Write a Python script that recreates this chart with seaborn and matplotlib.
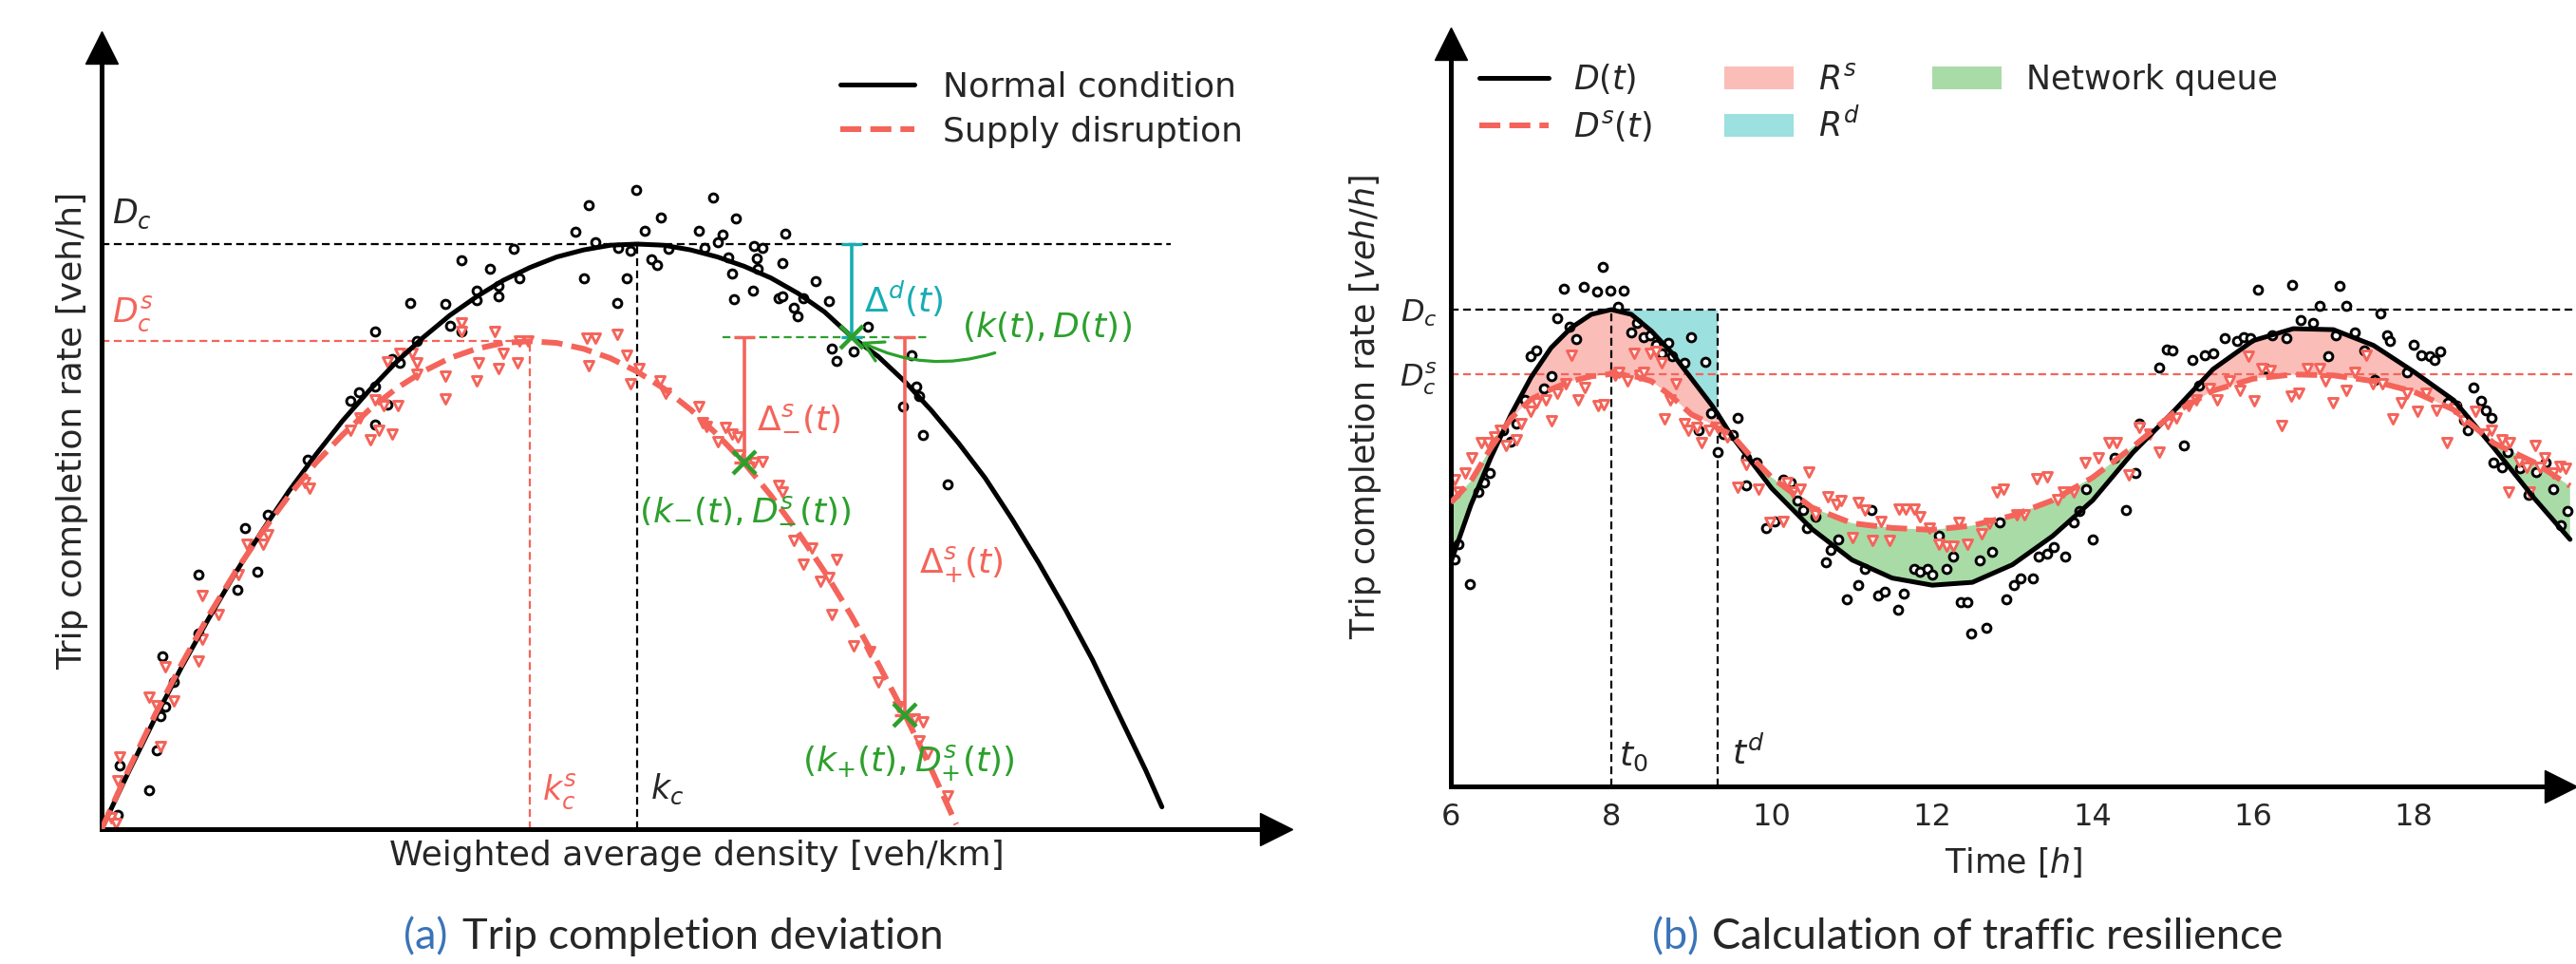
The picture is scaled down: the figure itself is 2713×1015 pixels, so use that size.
"""
Trip completion deviation (a) and traffic resilience (b) schematic.
"""

import numpy as np
import matplotlib.pyplot as plt
import seaborn as sns

sns.set_style('white')
plt.rcParams['font.family'] = ['DejaVu Sans']
plt.rcParams['mathtext.fontset'] = 'dejavusans'

RED = '#f4645a'
GREEN = '#2ca02c'
TEAL = '#17adb3'
PINK_FILL = '#fbbdb8'
TEAL_FILL = '#9ce0df'
GREEN_FILL = '#a9dba6'
BLUE = '#3a74b8'

# ============================================================================
# DATA - panel (a): MFD under normal condition and supply disruption
# ============================================================================

k_normal = [0, 2.5, 5, 7.5, 10, 12.5, 15, 17.5, 20, 22.5, 25, 27.5, 30, 32.5, 35, 37.5,
            40, 42.5, 45, 47.5, 50, 52.5, 55, 57.5, 60, 62.5, 65, 67.5, 70, 72.5, 75,
            77.5, 80, 82.5, 85, 87.5, 90, 92.5, 95, 97.5, 99]
D_normal = [0, 97, 190, 278, 360, 438, 510, 578, 640, 698, 750, 798, 840, 878, 910, 938,
            960, 978, 990, 998, 1000, 998, 990, 978, 962, 942, 916, 884, 842, 808, 765,
            715, 660, 600, 530, 455, 375, 290, 195, 100, 38]

k_supply = [0, 2.5, 5, 7.5, 10, 12.5, 15, 17.5, 20, 22.5, 25, 27.5, 30, 32.5, 35, 37.5,
            40, 42.5, 45, 47.5, 50, 52.5, 55, 57.5, 60, 62.5, 65, 67.5, 70, 72.5, 75,
            77.5, 79.8]
D_supply = [0, 101, 196, 283, 365, 440, 508, 570, 626, 674, 717, 753, 782, 805, 821, 831,
            834, 831, 821, 805, 782, 753, 717, 674, 626, 570, 508, 440, 365, 283, 196,
            101, 8]

k_obs = [1.5, 1.7, 4.4, 5.5, 5.9, 5.1, 5.7, 6.7, 9.0, 9.0, 12.7, 13.4, 14.5, 15.5, 19.2,
         23.2, 24.0, 25.5, 25.5, 26.7, 25.5, 27.1, 27.8, 28.8, 29.4, 32.1, 32.5, 33.6, 33.6,
         35.0, 35.0, 36.3, 37.1, 37.1, 38.5, 39.0, 44.2, 45.0, 45.5, 46.1, 48.1, 48.2, 49.0,
         49.4, 49.9, 50.7, 51.3, 51.9, 52.2, 52.9, 55.8, 56.3, 57.1, 57.5, 58.0, 58.5, 58.9,
         59.0, 59.2, 60.8, 60.9, 61.2, 61.3, 61.7, 63.2, 63.6, 63.8, 63.6, 64.6, 65.0, 65.5,
         66.7, 67.9, 68.2, 68.6, 70.2, 71.5, 74.8, 75.6, 76.1, 76.3, 76.7, 79.0]
D_obs = [25, 109, 67, 193, 209, 135, 295, 251, 435, 335, 409, 514, 440, 537, 631,
         732, 746, 757, 692, 726, 850, 803, 797, 900, 834, 897, 860, 973, 850,
         920, 904, 958, 929, 910, 992, 942, 1021, 941, 1067, 1004, 900, 994, 942,
         989, 1092, 1022, 974, 965, 1046, 992, 1022, 994, 1079, 1004, 1016, 978, 949,
         906, 1044, 920, 997, 976, 958, 994, 908, 911, 1018, 968, 892, 876, 908,
         936, 902, 821, 800, 816, 858, 722, 810, 757, 740, 674, 589]

k_obs_s = [0.9, 1.3, 1.7, 1.5, 4.4, 5.1, 5.9, 5.5, 6.7, 9.0, 9.4, 9.4, 10.9, 12.8, 13.6,
           15.1, 15.5, 19.0, 19.4, 23.2, 24.1, 25.1, 25.5, 25.9, 26.3, 27.1, 27.7, 26.7,
           27.8, 29.0, 29.4, 29.4, 32.1, 32.1, 33.6, 33.6, 35.0, 35.2, 36.7, 37.1, 37.5,
           38.8, 39.0, 39.8, 45.3, 46.1, 45.5, 48.1, 49.0, 49.4, 50.2, 52.1, 52.7, 55.8,
           56.1, 56.5, 57.5, 58.2, 58.9, 59.4, 59.6, 60.9, 61.7, 63.2, 63.6, 64.6, 65.5,
           66.3, 67.1, 67.9, 68.6, 68.2, 70.2, 71.7, 72.5, 74.4, 75.9, 76.7, 76.3, 77.1, 79.0]
D_obs_s = [20, 9, 123, 83, 225, 211, 277, 141, 219, 288, 400, 325, 367, 435, 487,
           487, 503, 592, 582, 682, 703, 666, 734, 682, 724, 676, 724, 799,
           813, 813, 797, 778, 774, 736, 866, 850, 766, 797, 850, 787, 813,
           797, 834, 834, 839, 839, 792, 845, 810, 761, 787, 766, 745, 722,
           694, 689, 663, 687, 676, 671, 640, 627, 629, 587, 577, 493, 453,
           480, 424, 430, 461, 367, 314, 304, 251, 209, 188, 183, 151, 130, 57]

D_c, D_cs = 1000, 834          # capacities
k_c, k_cs = 50, 40             # critical densities
k_t, D_t = 70, 841             # current state (k(t), D(t))
k_minus, D_minus = 60, 626     # (k_-(t), D^s_-(t))
k_plus, D_plus = 75, 195       # (k_+(t), D^s_+(t))

# ============================================================================
# DATA - panel (b): daily trip completion profiles
# ============================================================================

t_b = [6.0, 6.25, 6.5, 6.75, 7.0, 7.25, 7.5, 7.75, 8.0, 8.25, 8.5, 8.75, 9.0, 9.25, 9.32,
       9.5, 9.75, 10.0, 10.5, 11.0, 11.5, 12.0, 12.5, 13.0, 13.5, 14.0, 14.5, 15.0, 15.5,
       16.0, 16.5, 17.0, 17.5, 18.0, 18.5, 19.0, 19.5, 19.95]
D_b = [470, 590, 690, 780, 858, 920, 962, 990, 1000, 990, 955, 910, 855, 800, 783,
       735, 680, 625, 540, 475, 437, 422, 428, 465, 525, 600, 700, 785, 875,
       935, 960, 958, 925, 870, 810, 710, 605, 518]
Ds_b = [595, 640, 710, 772, 812, 833, 850, 860, 865, 862, 850, 818, 780, 760, 752,
        738, 690, 648, 585, 552, 542, 538, 547, 568, 600, 648, 712, 782, 830,
        855, 864, 862, 850, 828, 790, 720, 680, 630]

t_obs = [6.05, 6.10, 6.24, 6.34, 6.41, 6.48, 6.65, 6.75, 6.82, 6.92, 6.99, 7.07, 7.16, 7.26,
         7.33, 7.48, 7.56, 7.41, 7.66, 7.82, 7.99, 8.15, 7.89, 8.08, 8.25, 8.32, 8.40, 8.48,
         8.56, 8.63, 8.71, 8.76, 8.91, 8.99, 9.09, 9.17, 9.24, 9.32, 9.40, 9.51, 9.58, 9.68,
         9.81, 9.68, 9.93, 10.04, 10.14, 10.24, 10.32, 10.39, 10.44, 10.55, 10.67, 10.73,
         10.83, 10.93, 11.08, 11.16, 11.24, 11.32, 11.41, 11.57, 11.65, 11.77, 11.85, 11.94,
         12.0, 12.08, 12.18, 12.26, 12.36, 12.44, 12.49, 12.67, 12.59, 12.74, 12.84, 12.92,
         13.02, 13.10, 13.25, 13.32, 13.43, 13.51, 13.66, 13.76, 13.83, 13.92, 14.0, 14.27,
         14.41, 14.53, 14.58, 14.83, 14.92, 14.99, 15.14, 15.24, 15.33, 15.40, 15.50, 15.65,
         15.80, 15.88, 15.96, 16.06, 16.16, 16.24, 16.42, 16.49, 16.59, 16.75, 16.83, 16.93,
         17.03, 17.08, 17.16, 17.27, 17.39, 17.51, 17.59, 17.67, 17.71, 17.92, 18.0, 18.10,
         18.20, 18.26, 18.33, 18.43, 18.53, 18.63, 18.68, 18.74, 18.84, 18.90, 18.97, 19.0,
         19.10, 19.17, 19.33, 19.38, 19.43, 19.53, 19.65, 19.74, 19.84, 19.92]
D_obs_b = [476, 508, 425, 618, 637, 657, 747, 724, 760, 811, 902, 914, 835, 860,
           982, 964, 938, 1043, 1047, 1037, 1040, 1040, 1089, 1005, 953, 973, 943, 947,
           927, 908, 931, 902, 889, 943, 747, 891, 783, 702, 740, 737, 773, 689,
           680, 631, 541, 556, 644, 637, 599, 579, 541, 566, 470, 496,
           518, 392, 422, 457, 579, 401, 409, 370, 405, 457, 450, 457,
           444, 525, 457, 483, 386, 386, 321, 332, 474, 492, 553, 392,
           422, 437, 437, 483, 489, 502, 483, 553, 577, 624, 517, 689,
           579, 657, 760, 878, 917, 915, 715, 895, 840, 904, 908, 940,
           934, 943, 940, 1041, 876, 947, 940, 1052, 979, 973, 1007, 902,
           947, 1050, 1007, 953, 914, 853, 992, 947, 934, 869, 927, 904,
           902, 895, 912, 805, 798, 769, 747, 837, 809, 788, 773, 680,
           670, 702, 667, 680, 612, 659, 680, 624, 547, 577]

t_obs_s = [6.05, 6.10, 6.18, 6.26, 6.38, 6.46, 6.54, 6.62, 6.69, 6.82, 6.87, 6.99, 7.07, 7.18,
           7.26, 7.33, 7.43, 7.50, 7.59, 7.67, 7.84, 7.91, 8.05, 8.10, 8.20, 8.28, 8.35, 8.40,
           8.48, 8.56, 8.63, 8.73, 8.66, 8.81, 8.91, 8.96, 9.07, 9.12, 9.22, 9.32, 9.44, 9.58,
           9.68, 9.83, 9.98, 10.14, 10.19, 10.26, 10.36, 10.46, 10.55, 10.70, 10.80, 10.87,
           11.01, 11.08, 11.16, 11.26, 11.36, 11.47, 11.59, 11.67, 11.77, 11.85, 11.96, 12.08,
           12.18, 12.26, 12.33, 12.44, 12.61, 12.71, 12.81, 12.89, 13.05, 13.15, 13.30, 13.43,
           13.56, 13.63, 13.76, 13.90, 14.07, 14.20, 14.30, 14.45, 14.58, 14.71, 14.83, 14.94,
           15.04, 15.19, 15.29, 15.45, 15.55, 15.70, 15.84, 15.94, 16.01, 16.11, 16.21, 16.35,
           16.47, 16.57, 16.67, 16.83, 16.90, 17.0, 17.16, 17.27, 17.41, 17.49, 17.61, 17.74,
           17.85, 17.92, 18.05, 18.15, 18.29, 18.41, 18.51, 18.63, 18.77, 18.90, 18.97, 19.10,
           19.20, 19.31, 19.41, 19.51, 19.58, 19.63, 19.74, 19.82, 19.89, 19.18, 19.45]
Ds_obs_b = [644, 618, 657, 689, 721, 721, 734, 747, 715, 728, 760, 786, 805, 811,
            766, 824, 844, 904, 811, 837, 798, 801, 863, 869, 850, 908, 863, 869,
            908, 912, 889, 811, 770, 844, 760, 747, 753, 721, 747, 753, 734, 628,
            676, 624, 554, 556, 637, 618, 624, 659, 569, 608, 592, 599,
            521, 595, 579, 515, 556, 515, 582, 582, 582, 566, 541, 508,
            504, 504, 553, 508, 530, 551, 618, 624, 569, 569, 646, 650,
            602, 618, 618, 680, 689, 721, 721, 654, 753, 740, 702, 760,
            773, 798, 811, 835, 811, 850, 831, 902, 809, 876, 873, 757,
            818, 824, 876, 876, 850, 805, 831, 869, 904, 844, 844, 770,
            805, 824, 786, 824, 788, 721, 792, 766, 786, 740, 747, 728,
            721, 682, 670, 715, 670, 689, 657, 672, 667, 618, 618]

D_c_b, D_cs_b = 1000, 865
t0, td = 8, 9.32

# ============================================================================
# FIGURE
# ============================================================================

fig = plt.figure(figsize=(27.13, 10.15), dpi=100)
ax1 = fig.add_axes([0.03944, 0.13990, 0.46185, 0.82759])
ax2 = fig.add_axes([0.56321, 0.18424, 0.43679, 0.78719])

THIN = (0, (3.7, 2.1))
FS = 26
MK_LW = 2.1


def arrow_axes(ax, x0, x1, y0, y1, xa, ya):
    ax.set_xlim(x0, x1)
    ax.set_ylim(y0, y1)
    ax.spines['top'].set_visible(False)
    ax.spines['right'].set_visible(False)
    for side in ['left', 'bottom']:
        ax.spines[side].set_linewidth(3.6)
        ax.spines[side].set_color('k')
    ax.spines['bottom'].set_bounds(x0, xa)
    ax.spines['left'].set_bounds(y0, ya)
    ax.plot(xa, y0, '>', ms=24, color='k', clip_on=False, zorder=10)
    ax.plot(x0, ya, '^', ms=24, color='k', clip_on=False, zorder=10)


# ---------------------------------------------------------------- panel (a)
ax = ax1
ax.hlines(D_c, 0, 99.8, color='k', lw=1.6, ls=THIN, zorder=1)
ax.vlines(k_c, 0, D_c, color='k', lw=1.6, ls=THIN, zorder=1)
ax.hlines(D_cs, 0, k_cs, color=RED, lw=1.6, ls=THIN, zorder=1)
ax.vlines(k_cs, 0, D_cs, color=RED, lw=1.6, ls=THIN, zorder=1)

sns.scatterplot(x=k_obs, y=D_obs, ax=ax, marker='o', s=40, color='white',
                edgecolor='k', linewidth=MK_LW, zorder=2)
sns.scatterplot(x=k_obs_s, y=D_obs_s, ax=ax, marker='v', s=52, color='white',
                edgecolor=RED, linewidth=MK_LW, zorder=2)

sns.lineplot(x=k_normal, y=D_normal, ax=ax, color='k', lw=3.6,
             label='Normal condition', zorder=4)
sns.lineplot(x=k_supply, y=D_supply, ax=ax, color=RED, lw=4.3, linestyle='--',
             label='Supply disruption', zorder=4)

# deviations
ax.plot([58, 77.1], [D_t, D_t], color=GREEN, lw=1.6, ls=THIN, zorder=5)
ax.errorbar([k_t], [D_t], yerr=[[0], [D_c - D_t]], color=TEAL, lw=2.6,
            capsize=8, capthick=2.4, zorder=5)
ax.errorbar([k_minus], [D_t], yerr=[[D_t - D_minus], [0]], color=RED, lw=2.6,
            capsize=8, capthick=2.4, zorder=5)
ax.errorbar([k_plus], [D_t], yerr=[[D_t - D_plus], [0]], color=RED, lw=2.6,
            capsize=8, capthick=2.4, zorder=5)
ax.plot([k_t, k_minus, k_plus], [D_t, D_minus, D_plus], 'x', ms=17, mew=3.2,
        color=GREEN, zorder=7)

ax.annotate('', xy=(70.9, 833), xytext=(83.4, 814),
            arrowprops=dict(arrowstyle='->,head_length=0.7,head_width=0.4',
                            connectionstyle='arc3,rad=-0.2', color=GREEN, lw=2.3,
                            shrinkA=0, shrinkB=0, mutation_scale=20), zorder=6)

ax.text(1.0, 1052, '$D_c$', fontsize=25, ha='left', va='center')
ax.text(1.0, 881, '$D_c^s$', fontsize=25, ha='left', va='center', color=RED)
ax.text(41.1, 65, '$k_c^s$', fontsize=25, ha='left', va='center', color=RED)
ax.text(51.2, 68, '$k_c$', fontsize=25, ha='left', va='center')
ax.text(71.2, 906, r'$\Delta^d(t)$', fontsize=FS, ha='left', va='center', color=TEAL)
ax.text(61.2, 706, r'$\Delta^s_{-}(t)$', fontsize=FS, ha='left', va='center', color=RED)
ax.text(76.3, 453, r'$\Delta^s_{+}(t)$', fontsize=FS, ha='left', va='center', color=RED)
ax.text(80.3, 858, '$(k(t), D(t))$', fontsize=FS, ha='left', va='center', color=GREEN)
ax.text(60.1, 548, '$(k_{-}(t), D^s_{-}(t))$', fontsize=FS, ha='center', va='center',
        color=GREEN, zorder=8)
ax.text(75.3, 114, '$(k_{+}(t), D^s_{+}(t))$', fontsize=FS, ha='center', va='center',
        color=GREEN, zorder=8)

ax.set_xticks([])
ax.set_yticks([])
ax.set_xlabel('Weighted average density [veh/km]', fontsize=FS, labelpad=8)
ax.set_ylabel('Trip completion rate [veh/h]', fontsize=FS, labelpad=10)
arrow_axes(ax, 0, 111.08, 0, 1363.6, 109.62, 1336.8)
ax.legend(loc='upper left', bbox_to_anchor=(0.621, 0.95), frameon=False, fontsize=FS,
          handlelength=2.15, handletextpad=0.85, labelspacing=0.35,
          borderaxespad=0, borderpad=0)

# ---------------------------------------------------------------- panel (b)
ax = ax2
t = np.array(t_b)
D = np.array(D_b)
Ds = np.array(Ds_b)
rd = (t >= t0) & (t <= td)

ax.fill_between(t, D, Ds, where=D >= Ds, interpolate=True, color=PINK_FILL, lw=0,
                label='$R^s$', zorder=1)
ax.fill_between(t[rd], D[rd], D_c_b, color=TEAL_FILL, lw=0, label='$R^d$', zorder=1)
ax.fill_between(t, D, Ds, where=D < Ds, interpolate=True, color=GREEN_FILL, lw=0,
                label='Network queue', zorder=1)

ax.axhline(D_c_b, color='k', lw=1.6, ls=THIN, zorder=1.5)
ax.axhline(D_cs_b, color=RED, lw=1.6, ls=THIN, zorder=1.5)
ax.vlines([t0, td], 0, D_c_b, color='k', lw=1.6, ls=THIN, zorder=1.5)

sns.scatterplot(x=t_obs, y=D_obs_b, ax=ax, marker='o', s=40, color='white',
                edgecolor='k', linewidth=MK_LW, zorder=2)
sns.scatterplot(x=t_obs_s, y=Ds_obs_b, ax=ax, marker='v', s=52, color='white',
                edgecolor=RED, linewidth=MK_LW, zorder=2)

sns.lineplot(x=t_b, y=D_b, ax=ax, color='k', lw=3.6, label='$D(t)$', zorder=4)
sns.lineplot(x=t_b, y=Ds_b, ax=ax, color=RED, lw=4.3, linestyle='--',
             label='$D^s(t)$', zorder=4)

ax.text(t0 + 0.1, 62, '$t_0$', fontsize=FS, ha='left', va='center')
ax.text(td + 0.18, 70, '$t^d$', fontsize=FS, ha='left', va='center')

ax.set_xticks([6, 8, 10, 12, 14, 16, 18])
ax.tick_params(axis='x', direction='in', length=8, width=3, labelsize=23, pad=12)
ax.set_yticks([D_cs_b, D_c_b])
ax.set_yticklabels(['$D_c^s$', '$D_c$'])
ax.tick_params(axis='y', direction='in', length=7, width=3.5, labelsize=23, pad=10)
ax.yaxis.get_major_ticks()[0].tick1line.set_color(RED)
ax.set_xlabel('Time [$h$]', fontsize=25, labelpad=10)
ax.set_ylabel('Trip completion rate [$veh/h$]', fontsize=25, labelpad=12)
arrow_axes(ax, 6, 20.024, 0, 1591.6, 19.829, 1558.7)

handles, labels = ax.get_legend_handles_labels()
order = [labels.index(l) for l in ['$D(t)$', '$D^s(t)$', '$R^s$', '$R^d$', 'Network queue']]
ax.legend([handles[i] for i in order], [labels[i] for i in order], ncol=3,
          loc='upper left', bbox_to_anchor=(0.025, 0.955), frameon=False, fontsize=25,
          handlelength=2.1, handletextpad=0.75, labelspacing=0.37, columnspacing=2.2,
          borderaxespad=0, borderpad=0)

# ---------------------------------------------------------------- captions
fig.text(0.1567, 0.0276, '(a)', color=BLUE, fontsize=32.5, family='Lato', va='center')
fig.text(0.1795, 0.0276, 'Trip completion deviation', fontsize=32.5, family='Lato',
         va='center')
fig.text(0.6414, 0.0276, '(b)', color=BLUE, fontsize=32.5, family='Lato', va='center')
fig.text(0.6646, 0.0276, 'Calculation of traffic resilience', fontsize=32.5, family='Lato',
         va='center')

fig.savefig('out.png', dpi=100)
